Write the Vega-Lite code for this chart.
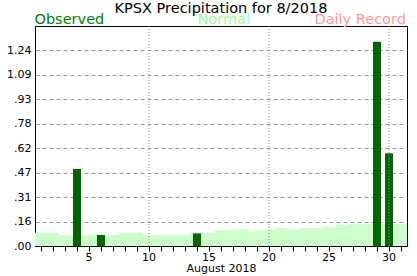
{
  "$schema": "https://vega.github.io/schema/vega-lite/v6.json",
  "autosize": {"type": "none"},
  "padding": {"left": 35, "top": 26, "right": 10, "bottom": 30},
  "width": 372,
  "height": 220,
  "background": "white",
  "title": {
    "text": "KPSX Precipitation for 8/2018",
    "font": "DejaVu Sans",
    "fontSize": 14.5,
    "fontWeight": "normal",
    "color": "black",
    "anchor": "middle",
    "offset": -3
  },
  "config": {
    "view": {"stroke": "black", "strokeWidth": 1},
    "axis": {"labelFont": "DejaVu Sans", "titleFont": "DejaVu Sans", "labelColor": "black", "titleColor": "black", "domainColor": "black", "tickColor": "black"},
    "axisY": {"labelOverlap": false, "labelFlush": false}
  },
  "data": {
    "values": [
      {"day": 1, "normal": 0.085, "obs": 0},
      {"day": 2, "normal": 0.085, "obs": 0},
      {"day": 3, "normal": 0.07, "obs": 0},
      {"day": 4, "normal": 0.07, "obs": 0.49},
      {"day": 5, "normal": 0.07, "obs": 0},
      {"day": 6, "normal": 0.07, "obs": 0.07},
      {"day": 7, "normal": 0.07, "obs": 0},
      {"day": 8, "normal": 0.085, "obs": 0},
      {"day": 9, "normal": 0.085, "obs": 0},
      {"day": 10, "normal": 0.07, "obs": 0},
      {"day": 11, "normal": 0.07, "obs": 0},
      {"day": 12, "normal": 0.07, "obs": 0},
      {"day": 13, "normal": 0.07, "obs": 0},
      {"day": 14, "normal": 0.085, "obs": 0.08},
      {"day": 15, "normal": 0.085, "obs": 0},
      {"day": 16, "normal": 0.1, "obs": 0},
      {"day": 17, "normal": 0.1, "obs": 0},
      {"day": 18, "normal": 0.105, "obs": 0},
      {"day": 19, "normal": 0.095, "obs": 0},
      {"day": 20, "normal": 0.105, "obs": 0},
      {"day": 21, "normal": 0.115, "obs": 0},
      {"day": 22, "normal": 0.105, "obs": 0},
      {"day": 23, "normal": 0.115, "obs": 0},
      {"day": 24, "normal": 0.115, "obs": 0},
      {"day": 25, "normal": 0.12, "obs": 0},
      {"day": 26, "normal": 0.135, "obs": 0},
      {"day": 27, "normal": 0.14, "obs": 0},
      {"day": 28, "normal": 0.14, "obs": 0},
      {"day": 29, "normal": 0.14, "obs": 1.30},
      {"day": 30, "normal": 0.14, "obs": 0.59},
      {"day": 31, "normal": 0.14, "obs": 0}
    ]
  },
  "encoding": {
    "x": {
      "field": "day",
      "type": "ordinal",
      "scale": {"paddingInner": 0, "paddingOuter": 0},
      "axis": {
        "title": "August 2018",
        "titleFontSize": 11,
        "titleFontWeight": "normal",
        "titlePadding": 0,
        "labelFontSize": 11,
        "labelAngle": 0,
        "labelPadding": 0,
        "tickSize": 5,
        "grid": false,
        "labelExpr": "datum.value % 5 == 0 ? datum.label : ''"
      }
    }
  },
  "layer": [
    {
      "mark": {"type": "bar", "width": {"band": 1}},
      "encoding": {
        "y": {
          "field": "normal",
          "type": "quantitative",
          "scale": {"domain": [0, 1.4], "nice": false, "zero": true},
          "axis": {
            "title": null,
            "values": [0, 0.155556, 0.311111, 0.466667, 0.622222, 0.777778, 0.933333, 1.088889, 1.244444],
            "labelExpr": "datum.value < 1 ? slice(format(datum.value, '.2f'), 1) : format(datum.value, '.2f')",
            "labelFontSize": 11,
            "labelPadding": 4,
            "labelOverlap": false,
            "labelFlush": false,
            "ticks": false,
            "grid": true,
            "gridDash": [4, 3],
            "gridColor": "#999999",
            "gridOpacity": 1
          }
        },
        "color": {
          "datum": "Normal",
          "scale": {"domain": ["Observed", "Normal", "Daily Record"], "range": ["#006600", "#ccffcc", "#ff9999"]},
          "legend": {
            "orient": "top",
            "direction": "horizontal",
            "title": null,
            "symbolSize": 1,
            "symbolOpacity": 0,
            "symbolStrokeWidth": 0,
            "labelOffset": {"expr": "datum.value == 'Normal' ? 14 : -15"},
            "padding": 0,
            "offset": -1,
            "columnPadding": 64,
            "labelFont": "DejaVu Sans",
            "labelFontSize": 14.5,
            "labelLimit": 0,
            "labelColor": {"expr": "datum.value == 'Observed' ? '#008000' : datum.value == 'Normal' ? '#99ff99' : '#ff9999'"}
          }
        }
      }
    },
    {
      "mark": {"type": "bar", "width": 8},
      "encoding": {
        "y": {"field": "obs", "type": "quantitative", "axis": {"labelOverlap": false, "values": [0, 0.155556, 0.311111, 0.466667, 0.622222, 0.777778, 0.933333, 1.088889, 1.244444]}},
        "color": {"datum": "Observed"}
      }
    },
    {
      "transform": [{"filter": "datum.day % 10 == 0"}],
      "mark": {"type": "rule", "color": "#888888", "strokeDash": [1, 2], "strokeWidth": 1},
      "encoding": {}
    }
  ],
  "resolve": {"scale": {"y": "shared"}}
}
